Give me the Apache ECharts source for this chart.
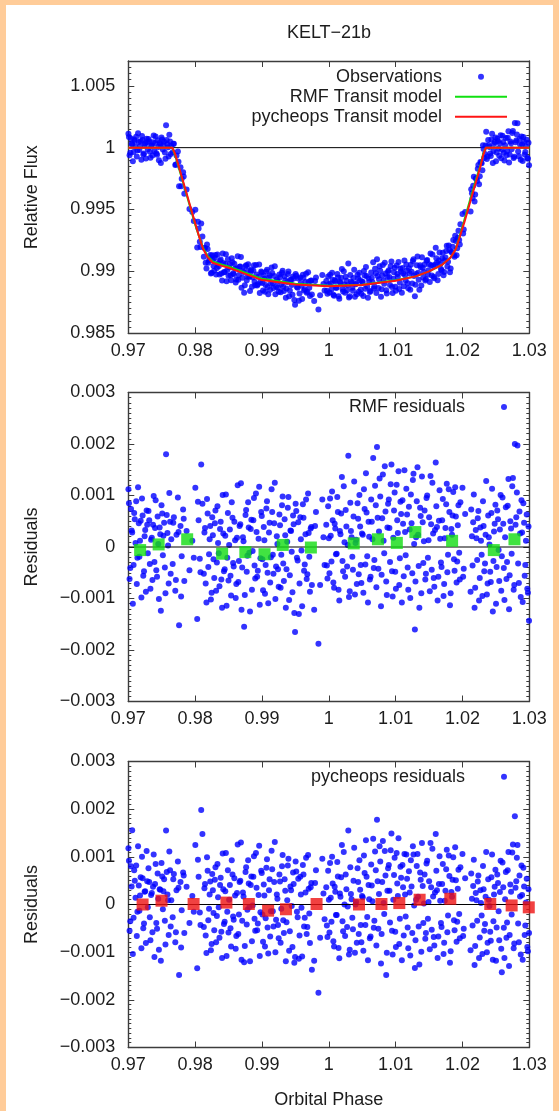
<!DOCTYPE html>
<html>
<head>
<meta charset="utf-8">
<title>KELT-21b transit</title>
<script src="https://cdn.jsdelivr.net/npm/echarts/dist/echarts.min.js"></script>
<style>
  html, body { margin: 0; padding: 0; background: #FFCC99; }
  #paper { position: absolute; left: 6px; top: 5px; width: 547px; height: 1106px; background: #ffffff; }
  #chart { position: absolute; left: 0; top: 0; width: 559px; height: 1111px; }
</style>
</head>
<body>
<div id="paper"></div>
<div id="chart"></div>
<script>
// ---- Phase axis ----
const xMin = 0.97, xMax = 1.03, xStep = 0.01;
const xTickLabels = ['0.97', '0.98', '0.99', '1', '1.01', '1.02', '1.03'];

// ---- Observations: orbital phase, normalised flux and residuals of both fits ----
const phase = [
  // first cadence block
  0.97002, 0.97019, 0.97041, 0.97058, 0.97079, 0.97097, 0.97118, 0.97136, 0.97157, 0.97175,
  0.97196, 0.97214, 0.97235, 0.97253, 0.97274, 0.97292, 0.97313, 0.97331, 0.97352, 0.97370,
  0.97391, 0.97409, 0.97430, 0.97448, 0.97469, 0.97487, 0.97508, 0.97526, 0.97547, 0.97565,
  0.97586, 0.97604, 0.97625, 0.97643,
  0.97664, 0.97682, 0.97703, 0.97721, 0.97742, 0.97760, 0.97781, 0.97799, 0.97820, 0.97838,
  0.97872, 0.97915, 0.97958, 0.98003, 0.98031, 0.98052, 0.98070, 0.98091, 0.98109,
  0.98130, 0.98148, 0.98169, 0.98187, 0.98208, 0.98226, 0.98247, 0.98265, 0.98286, 0.98304,
  0.98325, 0.98343, 0.98364, 0.98382, 0.98403, 0.98421, 0.98442, 0.98460, 0.98481, 0.98499,
  0.98520, 0.98538, 0.98559, 0.98577, 0.98598, 0.98616, 0.98637, 0.98655, 0.98676, 0.98694,
  0.98715, 0.98733, 0.98754, 0.98772, 0.98793, 0.98811, 0.98832, 0.98850, 0.98871, 0.98889,
  0.98910, 0.98928, 0.98949, 0.98967, 0.98988, 0.99006, 0.99027, 0.99045, 0.99066, 0.99084,
  0.99105, 0.99123, 0.99144, 0.99162, 0.99183, 0.99201, 0.99222, 0.99240, 0.99261, 0.99279,
  0.99300, 0.99318, 0.99339, 0.99357, 0.99378, 0.99396, 0.99417, 0.99435, 0.99456, 0.99474,
  0.99495, 0.99513, 0.99534, 0.99552, 0.99573, 0.99591, 0.99612, 0.99630, 0.99651, 0.99669,
  0.99690, 0.99708, 0.99729, 0.99747,
  0.99781, 0.99808, 0.99845, 0.99903, 0.99937,
  0.99962, 0.99980, 1.00001, 1.00019, 1.00040, 1.00058, 1.00079, 1.00097, 1.00118, 1.00136,
  1.00157, 1.00175, 1.00196, 1.00214, 1.00235, 1.00253, 1.00274, 1.00292, 1.00313, 1.00331,
  1.00352, 1.00370, 1.00391, 1.00409, 1.00430, 1.00448, 1.00469, 1.00487, 1.00508, 1.00526,
  1.00547, 1.00565, 1.00586, 1.00604, 1.00625, 1.00643, 1.00664, 1.00682, 1.00703, 1.00721,
  1.00742, 1.00760, 1.00781, 1.00799, 1.00820, 1.00838, 1.00859, 1.00877, 1.00898, 1.00916,
  1.00937, 1.00955, 1.00976, 1.00994, 1.01015, 1.01033, 1.01054, 1.01072, 1.01093, 1.01111,
  1.01132, 1.01150, 1.01171, 1.01189, 1.01210, 1.01228, 1.01249, 1.01267, 1.01288, 1.01306,
  1.01327, 1.01345, 1.01366, 1.01384, 1.01405, 1.01423, 1.01444, 1.01462, 1.01483, 1.01501,
  1.01522, 1.01540, 1.01561, 1.01579, 1.01600, 1.01618, 1.01639, 1.01657, 1.01678, 1.01696,
  1.01717, 1.01735, 1.01756, 1.01774, 1.01795, 1.01813, 1.01834, 1.01852, 1.01873, 1.01891,
  1.01912, 1.01930, 1.01951, 1.01969,
  1.02000, 1.02019, 1.02040, 1.02121, 1.02142, 1.02160, 1.02181, 1.02199, 1.02220, 1.02238,
  1.02259, 1.02277, 1.02298, 1.02316, 1.02337, 1.02355, 1.02376, 1.02394, 1.02415, 1.02433,
  1.02454, 1.02472, 1.02493, 1.02511, 1.02532, 1.02550, 1.02571, 1.02589, 1.02610, 1.02628,
  1.02649, 1.02667, 1.02688, 1.02706, 1.02727, 1.02745, 1.02766, 1.02784, 1.02805, 1.02823,
  1.02844, 1.02862, 1.02883, 1.02901, 1.02922, 1.02940, 1.02961, 1.02979, 1.02996,
  // second cadence block
  0.97010, 0.97030, 0.97050, 0.97068, 0.97088, 0.97108, 0.97127, 0.97146, 0.97166, 0.97185,
  0.97205, 0.97224, 0.97244, 0.97263, 0.97283, 0.97302, 0.97322, 0.97341, 0.97361, 0.97380,
  0.97400, 0.97419, 0.97439, 0.97458, 0.97478, 0.97497, 0.97517, 0.97536, 0.97556, 0.97575,
  0.97595, 0.97614, 0.97634,
  0.97673, 0.97712, 0.97751, 0.97790, 0.97829, 0.97980, 0.98042, 0.98080,
  0.98139, 0.98158, 0.98178, 0.98197, 0.98217, 0.98236, 0.98256, 0.98275, 0.98295, 0.98314,
  0.98334, 0.98353, 0.98373, 0.98392, 0.98412, 0.98431, 0.98451, 0.98470, 0.98490, 0.98509,
  0.98529, 0.98548, 0.98568, 0.98587, 0.98607, 0.98626, 0.98646, 0.98665, 0.98685, 0.98704,
  0.98724, 0.98743, 0.98763, 0.98782, 0.98802, 0.98821, 0.98841, 0.98860, 0.98880, 0.98899,
  0.98919, 0.98938, 0.98958, 0.98977, 0.98997, 0.99016, 0.99036, 0.99055, 0.99075, 0.99094,
  0.99114, 0.99133, 0.99153, 0.99172, 0.99192, 0.99211, 0.99231, 0.99250, 0.99270, 0.99289,
  0.99309, 0.99328, 0.99348, 0.99367, 0.99387, 0.99406, 0.99426, 0.99445, 0.99465, 0.99484,
  0.99504, 0.99523, 0.99543, 0.99562, 0.99582, 0.99601, 0.99621, 0.99640, 0.99660, 0.99679,
  0.99699, 0.99718, 0.99738,
  0.99794, 0.99870, 0.99920,
  0.99971, 0.99990, 1.00010, 1.00029, 1.00049, 1.00068, 1.00088, 1.00107, 1.00127, 1.00146,
  1.00166, 1.00185, 1.00205, 1.00224, 1.00244, 1.00263, 1.00283, 1.00302, 1.00322, 1.00341,
  1.00361, 1.00380, 1.00400, 1.00419, 1.00439, 1.00458, 1.00478, 1.00497, 1.00517, 1.00536,
  1.00556, 1.00575, 1.00595, 1.00614, 1.00634, 1.00653, 1.00673, 1.00692, 1.00712, 1.00731,
  1.00751, 1.00770, 1.00790, 1.00809, 1.00829, 1.00848, 1.00868, 1.00887, 1.00907, 1.00926,
  1.00946, 1.00965, 1.00985, 1.01004, 1.01024, 1.01043, 1.01063, 1.01082, 1.01102, 1.01121,
  1.01141, 1.01160, 1.01180, 1.01199, 1.01219, 1.01238, 1.01258, 1.01277, 1.01297, 1.01316,
  1.01336, 1.01355, 1.01375, 1.01394, 1.01414, 1.01433, 1.01453, 1.01472, 1.01492, 1.01511,
  1.01531, 1.01550, 1.01570, 1.01589, 1.01609, 1.01628, 1.01648, 1.01667, 1.01687, 1.01706,
  1.01726, 1.01745, 1.01765, 1.01784, 1.01804, 1.01823, 1.01843, 1.01862, 1.01882, 1.01901,
  1.01921, 1.01940, 1.01960,
  1.02010, 1.02131, 1.02151, 1.02170, 1.02190, 1.02209, 1.02229, 1.02248, 1.02268, 1.02287,
  1.02307, 1.02326, 1.02346, 1.02365, 1.02385, 1.02404, 1.02424, 1.02443, 1.02463, 1.02482,
  1.02502, 1.02521, 1.02541, 1.02560, 1.02580, 1.02599, 1.02619, 1.02638, 1.02658, 1.02677,
  1.02697, 1.02716, 1.02736, 1.02755, 1.02775, 1.02794, 1.02814, 1.02833, 1.02853, 1.02872,
  1.02892, 1.02911, 1.02931, 1.02950, 1.02970, 1.02988
];

const flux = [
  1.00112, 0.99938, 1.00074, 1.00028, 0.99965, 1.00054, 1.00089, 0.99979, 1.00046, 1.00012,
  0.99902, 1.00061, 0.99953, 1.00033, 1.00071, 0.99988, 1.00052, 0.99919, 1.00018, 1.00043,
  0.99971, 1.00091, 0.99942, 1.00006, 1.00038, 0.99876, 1.00065, 1.00022, 0.99960, 1.00180,
  1.00027, 0.99929, 1.00049, 1.00015,
  0.99962, 1.00031, 0.99860, 0.99936, 0.99969, 0.99688, 0.99842, 0.99749, 0.99801, 0.99628,
  0.99661, 0.99504, 0.99481, 0.99499, 0.99193, 0.99347, 0.99240, 0.99388, 0.99282,
  0.99118, 0.99189, 0.99023, 0.99181, 0.99089, 0.99132, 0.98989, 0.99092, 0.99005, 0.99133,
  0.99028, 0.99063, 0.98975, 0.99097, 0.98927, 0.99068, 0.98996, 0.99138, 0.99012, 0.98965,
  0.99060, 0.98928, 0.99075, 0.98977, 0.99023, 0.98935, 0.99123, 0.98972, 0.99039, 0.98869,
  0.99006, 0.98828, 0.99041, 0.98928, 0.99058, 0.98957, 0.98999, 0.98877, 0.99008, 0.98916,
  0.99052, 0.98886, 0.98956, 0.98825, 0.99000, 0.98906, 0.98967, 0.98836, 0.99000, 0.98874,
  0.98951, 0.98852, 0.99032, 0.98904, 0.98963, 0.98815, 0.98935, 0.98870, 0.98975, 0.98831,
  0.98990, 0.98876, 0.98960, 0.98787, 0.98914, 0.99000, 0.98846, 0.98931, 0.98811, 0.98942,
  0.98731, 0.98965, 0.98868, 0.98763, 0.98951, 0.98885, 0.98974, 0.98845, 0.98915, 0.98828,
  0.98993, 0.98869, 0.98924, 0.98813,
  0.98761, 0.98950, 0.98693, 0.98972, 0.98845,
  0.98923, 0.98819, 0.98897, 0.98974, 0.98853, 0.98933, 0.98803, 0.98918, 0.98869, 0.98951,
  0.98779, 0.98909, 0.99020, 0.98837, 0.98894, 0.98957, 0.98847, 0.99063, 0.98800, 0.98918,
  0.98868, 0.98946, 0.98796, 0.98902, 0.98974, 0.98836, 0.98929, 0.98820, 0.98915, 0.99004,
  0.98859, 0.98962, 0.98788, 0.98917, 0.98841, 0.98949, 0.99075, 0.98878, 0.98985, 0.99099,
  0.98865, 0.99041, 0.98795, 0.98967, 0.98924, 0.99071, 0.98848, 0.98954, 0.99010, 0.98890,
  0.99081, 0.98826, 0.98994, 0.98877, 0.99048, 0.98956, 0.98857, 0.99021, 0.98828, 0.98983,
  0.99089, 0.98927, 0.99008, 0.98864, 0.98984, 0.99054, 0.98903, 0.99098, 0.98799, 0.98980,
  0.99120, 0.98932, 0.99049, 0.98887, 0.99029, 0.98996, 0.98926, 0.99087, 0.98976, 0.99058,
  0.99144, 0.98967, 0.99043, 0.98945, 0.99192, 0.99071, 0.98980, 0.99153, 0.99019, 0.99106,
  0.98968, 0.99088, 0.99164, 0.99040, 0.99210, 0.98993, 0.99157, 0.99199, 0.99132, 0.99288,
  0.99131, 0.99272, 0.99254, 0.99382,
  0.99464, 0.99339, 0.99481, 0.99484, 0.99631, 0.99692, 0.99565, 0.99750, 0.99731, 0.99860,
  0.99769, 0.99878, 0.99818, 0.99990, 0.99949, 1.00128, 0.99929, 1.00019, 0.99952, 1.00066,
  0.99875, 1.00030, 1.00082, 0.99961, 1.00054, 0.99934, 1.00101, 0.99982, 1.00045, 0.99897,
  1.00077, 0.99971, 1.00132, 0.99945, 1.00036, 1.00118, 0.99917, 1.00200, 1.00058, 1.00197,
  0.99930, 1.00026, 1.00091, 0.99893, 1.00047, 0.99965, 1.00063, 0.99911, 0.99857,
  // second cadence block
  1.00085, 0.99959, 1.00032, 0.99890, 1.00066, 1.00008, 0.99928, 1.00116, 0.99981, 1.00051,
  1.00094, 0.99944, 1.00021, 0.99913, 1.00043, 1.00070, 0.99967, 1.00014, 0.99936, 1.00099,
  1.00037, 0.99955, 1.00059, 0.99899, 1.00025, 1.00081, 0.99984, 1.00047, 0.99910, 1.00062,
  1.00003, 1.00105, 0.99948,
  1.00031, 0.99864, 0.99886, 0.99688, 0.99766, 0.99407, 0.99401, 0.99198,
  0.99189, 0.99071, 0.99217, 0.99071, 0.99112, 0.98983, 0.99131, 0.99043, 0.99109, 0.98975,
  0.99136, 0.99041, 0.99085, 0.98984, 0.99145, 0.98993, 0.99059, 0.98921, 0.99098, 0.99032,
  0.98968, 0.99107, 0.98986, 0.99062, 0.98910, 0.99023, 0.98933, 0.99038, 0.99117, 0.98949,
  0.98996, 0.98888, 0.99049, 0.98957, 0.99008, 0.98841, 0.99015, 0.98950, 0.99049, 0.98889,
  0.98975, 0.98896, 0.99055, 0.98913, 0.98991, 0.98845, 0.98941, 0.98891, 0.99014, 0.98815,
  0.98969, 0.98901, 0.98988, 0.98866, 0.99042, 0.98877, 0.98920, 0.98835, 0.98953, 0.98895,
  0.99006, 0.98841, 0.98929, 0.98861, 0.98979, 0.98799, 0.98933, 0.98890, 0.98959, 0.98769,
  0.98980, 0.98874, 0.98942, 0.98822, 0.98907, 0.98777, 0.98948, 0.98856, 0.98982, 0.98836,
  0.98916, 0.98801, 0.98926,
  0.98923, 0.98807, 0.98899,
  0.98844, 0.98959, 0.98829, 0.98902, 0.98989, 0.98812, 0.98927, 0.98868, 0.98979, 0.98800,
  0.98914, 0.98949, 0.98857, 0.99002, 0.98827, 0.98925, 0.98889, 0.98789, 0.98972, 0.98906,
  0.98843, 0.99014, 0.98896, 0.98816, 0.98944, 0.98990, 0.98854, 0.98916, 0.98802, 0.98966,
  0.99036, 0.98877, 0.98945, 0.98834, 0.98991, 0.98915, 0.98861, 0.99022, 0.98826, 0.98962,
  0.98937, 0.99006, 0.98856, 0.99052, 0.98900, 0.98983, 0.98822, 0.99000, 0.98955, 0.99041,
  0.98874, 0.98940, 0.99029, 0.98844, 0.98979, 0.99076, 0.98909, 0.98997, 0.99027, 0.98881,
  0.98969, 0.99056, 0.98905, 0.99025, 0.98851, 0.98998, 0.99084, 0.98962, 0.98892, 0.99050,
  0.98989, 0.98851, 0.99033, 0.99114, 0.98950, 0.99056, 0.98937, 0.99092, 0.99010, 0.98914,
  0.99050, 0.99136, 0.98957, 0.99055, 0.99107, 0.98928, 0.99089, 0.99059, 0.99010, 0.99151,
  0.98995, 0.99113, 0.99208, 0.99078, 0.99170, 0.99024, 0.99154, 0.99254, 0.99118, 0.99245,
  0.99187, 0.99329, 0.99217,
  0.99307, 0.99664, 0.99591, 0.99765, 0.99621, 0.99753, 0.99829, 0.99705, 0.99884, 0.99873,
  1.00020, 0.99917, 1.00018, 0.99908, 1.00061, 1.00005, 0.99932, 1.00113, 0.99973, 1.00045,
  0.99890, 1.00071, 0.99994, 1.00034, 0.99915, 1.00096, 0.99959, 1.00019, 0.99938, 1.00080,
  0.99879, 1.00050, 0.99987, 1.00134, 0.99926, 1.00043, 1.00106, 0.99968, 1.00069, 0.99903,
  1.00028, 1.00085, 0.99944, 1.00012, 0.99919, 1.00040
];

const rmfResidual = [
  0.00112, -0.00062, 0.00074, 0.00028, -0.00035, 0.00054, 0.00089, -0.00021, 0.00046, 0.00012,
  -0.00098, 0.00061, -0.00047, 0.00033, 0.00071, -0.00012, 0.00052, -0.00081, 0.00018, 0.00043,
  -0.00029, 0.00091, -0.00058, 0.00006, 0.00038, -0.00124, 0.00065, 0.00022, -0.00040, 0.00180,
  0.00027, -0.00071, 0.00049, 0.00015,
  -0.00033, 0.00058, -0.00085, 0.00024, 0.00096, -0.00152, 0.00041, -0.00018, 0.00073, -0.00066,
  0.00031, -0.00045, 0.00012, 0.00115, -0.00140, 0.00052, -0.00023, 0.00160, 0.00084,
  -0.00052, 0.00037, -0.00108, 0.00065, -0.00014, 0.00041, -0.00089, 0.00023, -0.00060, 0.00071,
  -0.00030, 0.00008, -0.00076, 0.00049, -0.00118, 0.00026, -0.00043, 0.00102, -0.00021, -0.00065,
  0.00034, -0.00094, 0.00057, -0.00038, 0.00013, -0.00072, 0.00120, -0.00027, 0.00044, -0.00122,
  0.00019, -0.00155, 0.00062, -0.00048, 0.00087, -0.00011, 0.00035, -0.00083, 0.00052, -0.00036,
  0.00104, -0.00058, 0.00016, -0.00112, 0.00068, -0.00024, 0.00039, -0.00091, 0.00075, -0.00050,
  0.00028, -0.00069, 0.00112, -0.00015, 0.00046, -0.00101, 0.00021, -0.00043, 0.00063, -0.00079,
  0.00081, -0.00032, 0.00054, -0.00118, 0.00010, 0.00097, -0.00055, 0.00031, -0.00088, 0.00044,
  -0.00165, 0.00070, -0.00026, -0.00130, 0.00058, -0.00007, 0.00083, -0.00046, 0.00025, -0.00062,
  0.00104, -0.00019, 0.00036, -0.00074,
  -0.00122, 0.00068, -0.00188, 0.00092, -0.00035,
  0.00043, -0.00061, 0.00017, 0.00094, -0.00028, 0.00052, -0.00079, 0.00036, -0.00013, 0.00068,
  -0.00104, 0.00025, 0.00136, -0.00047, 0.00009, 0.00072, -0.00038, 0.00177, -0.00086, 0.00031,
  -0.00019, 0.00059, -0.00092, 0.00014, 0.00085, -0.00053, 0.00040, -0.00070, 0.00024, 0.00112,
  -0.00034, 0.00067, -0.00108, 0.00020, -0.00058, 0.00049, 0.00173, -0.00025, 0.00081, 0.00194,
  -0.00042, 0.00133, -0.00115, 0.00056, 0.00012, 0.00157, -0.00067, 0.00038, 0.00092, -0.00029,
  0.00160, -0.00096, 0.00071, -0.00048, 0.00121, 0.00027, -0.00074, 0.00088, -0.00108, 0.00045,
  0.00149, -0.00016, 0.00063, -0.00083, 0.00034, 0.00102, -0.00051, 0.00142, -0.00160, 0.00019,
  0.00155, -0.00037, 0.00076, -0.00090, 0.00048, 0.00011, -0.00063, 0.00095, -0.00021, 0.00058,
  0.00138, -0.00044, 0.00026, -0.00077, 0.00164, 0.00039, -0.00058, 0.00110, -0.00030, 0.00052,
  -0.00095, 0.00017, 0.00083, -0.00049, 0.00112, -0.00113, 0.00035, 0.00061, -0.00024, 0.00116,
  -0.00069, 0.00042, -0.00011, 0.00087,
  0.00115, -0.00042, 0.00064, -0.00087, 0.00021, 0.00048, -0.00118, 0.00033, -0.00025, 0.00070,
  -0.00060, 0.00012, -0.00095, 0.00041, -0.00032, 0.00128, -0.00071, 0.00019, -0.00048, 0.00066,
  -0.00125, 0.00030, 0.00082, -0.00039, 0.00054, -0.00066, 0.00101, -0.00018, 0.00045, -0.00103,
  0.00077, -0.00029, 0.00132, -0.00055, 0.00036, 0.00118, -0.00083, 0.00200, 0.00058, 0.00197,
  -0.00070, 0.00026, 0.00091, -0.00107, 0.00047, -0.00035, 0.00063, -0.00089, -0.00143,
  // second cadence block
  0.00085, -0.00041, 0.00032, -0.00110, 0.00066, 0.00008, -0.00072, 0.00116, -0.00019, 0.00051,
  0.00094, -0.00056, 0.00021, -0.00087, 0.00043, 0.00070, -0.00033, 0.00014, -0.00064, 0.00099,
  0.00037, -0.00045, 0.00059, -0.00101, 0.00025, 0.00081, -0.00016, 0.00047, -0.00090, 0.00062,
  0.00003, 0.00105, -0.00052,
  0.00047, -0.00064, 0.00029, -0.00096, 0.00055, -0.00021, 0.00088, -0.00049,
  0.00028, -0.00071, 0.00093, -0.00039, 0.00015, -0.00102, 0.00058, -0.00024, 0.00046, -0.00085,
  0.00079, -0.00012, 0.00035, -0.00063, 0.00101, -0.00047, 0.00022, -0.00114, 0.00066, 0.00004,
  -0.00056, 0.00087, -0.00031, 0.00049, -0.00099, 0.00018, -0.00068, 0.00041, 0.00124, -0.00040,
  0.00011, -0.00093, 0.00072, -0.00017, 0.00038, -0.00125, 0.00053, -0.00008, 0.00095, -0.00061,
  0.00029, -0.00046, 0.00117, -0.00022, 0.00060, -0.00084, 0.00013, -0.00035, 0.00089, -0.00109,
  0.00047, -0.00020, 0.00068, -0.00052, 0.00125, -0.00038, 0.00006, -0.00077, 0.00042, -0.00015,
  0.00098, -0.00066, 0.00023, -0.00043, 0.00076, -0.00103, 0.00032, -0.00009, 0.00061, -0.00128,
  0.00084, -0.00021, 0.00048, -0.00071, 0.00015, -0.00115, 0.00057, -0.00034, 0.00092, -0.00053,
  0.00027, -0.00087, 0.00039,
  0.00041, -0.00074, 0.00019,
  -0.00036, 0.00079, -0.00051, 0.00022, 0.00108, -0.00069, 0.00045, -0.00014, 0.00097, -0.00083,
  0.00031, 0.00065, -0.00027, 0.00118, -0.00058, 0.00040, 0.00004, -0.00097, 0.00086, 0.00019,
  -0.00044, 0.00127, 0.00008, -0.00072, 0.00055, 0.00101, -0.00035, 0.00026, -0.00089, 0.00074,
  0.00143, -0.00018, 0.00049, -0.00063, 0.00092, 0.00015, -0.00041, 0.00119, -0.00078, 0.00057,
  0.00030, 0.00098, -0.00054, 0.00141, -0.00012, 0.00069, -0.00093, 0.00084, 0.00037, 0.00122,
  -0.00047, 0.00018, 0.00106, -0.00081, 0.00052, 0.00147, -0.00022, 0.00064, 0.00091, -0.00057,
  0.00029, 0.00113, -0.00040, 0.00078, -0.00099, 0.00046, 0.00130, 0.00006, -0.00067, 0.00089,
  0.00024, -0.00118, 0.00060, 0.00137, -0.00031, 0.00071, -0.00052, 0.00100, 0.00013, -0.00086,
  0.00044, 0.00125, -0.00060, 0.00033, 0.00079, -0.00104, 0.00051, 0.00016, -0.00039, 0.00093,
  -0.00072, 0.00037, 0.00123, -0.00015, 0.00068, -0.00090, 0.00024, 0.00107, -0.00046, 0.00059,
  -0.00028, 0.00081, -0.00063,
  -0.00058, 0.00073, -0.00036, 0.00102, -0.00079, 0.00017, 0.00056, -0.00104, 0.00038, -0.00015,
  0.00089, -0.00047, 0.00024, -0.00092, 0.00061, 0.00005, -0.00068, 0.00113, -0.00027, 0.00045,
  -0.00110, 0.00071, -0.00006, 0.00034, -0.00085, 0.00096, -0.00041, 0.00019, -0.00062, 0.00080,
  -0.00121, 0.00050, -0.00013, 0.00134, -0.00074, 0.00043, 0.00106, -0.00032, 0.00069, -0.00097,
  0.00028, 0.00085, -0.00056, 0.00012, -0.00081, 0.00040
];

const pycheopsResidual = [
  0.00118, -0.00055, 0.00080, 0.00156, -0.00028, 0.00050, 0.00082, -0.00015, 0.00040, 0.00019,
  -0.00092, 0.00055, -0.00040, 0.00028, 0.00112, -0.00006, 0.00047, -0.00075, 0.00024, 0.00037,
  -0.00110, 0.00085, -0.00051, 0.00012, 0.00032, -0.00118, 0.00059, 0.00028, -0.00034, 0.00155,
  0.00021, -0.00064, 0.00072, 0.00009,
  -0.00027, 0.00064, -0.00079, 0.00030, 0.00090, -0.00148, 0.00047, -0.00012, 0.00067, -0.00060,
  0.00037, -0.00039, 0.00018, 0.00125, -0.00134, 0.00058, -0.00017, 0.00198, 0.00148,
  -0.00047, 0.00043, -0.00102, 0.00071, -0.00009, 0.00048, -0.00083, 0.00030, -0.00054, 0.00078,
  -0.00024, 0.00015, -0.00070, 0.00056, -0.00112, 0.00032, -0.00036, 0.00108, -0.00015, -0.00059,
  0.00041, -0.00088, 0.00063, -0.00032, 0.00019, -0.00066, 0.00126, -0.00021, 0.00050, -0.00116,
  0.00025, -0.00121, 0.00068, -0.00042, 0.00093, -0.00005, 0.00041, -0.00077, 0.00058, -0.00030,
  0.00108, -0.00054, 0.00020, -0.00108, 0.00071, -0.00021, 0.00042, -0.00088, 0.00077, -0.00048,
  0.00030, -0.00067, 0.00113, -0.00014, 0.00047, -0.00100, 0.00021, -0.00043, 0.00063, -0.00080,
  0.00080, -0.00033, 0.00053, -0.00119, 0.00009, 0.00096, -0.00056, 0.00030, -0.00089, 0.00043,
  -0.00110, 0.00069, -0.00027, -0.00114, 0.00058, -0.00007, 0.00083, -0.00046, 0.00025, -0.00062,
  0.00104, -0.00019, 0.00036, -0.00137,
  -0.00118, 0.00072, -0.00185, 0.00096, -0.00031,
  0.00036, -0.00068, 0.00010, 0.00087, -0.00036, 0.00044, -0.00088, 0.00027, -0.00022, 0.00059,
  -0.00113, 0.00016, 0.00125, -0.00056, 0.00000, 0.00063, -0.00047, 0.00155, -0.00095, 0.00022,
  -0.00028, 0.00050, -0.00101, 0.00005, 0.00076, -0.00062, 0.00031, -0.00079, 0.00015, 0.00103,
  -0.00043, 0.00058, -0.00117, 0.00011, -0.00067, 0.00040, 0.00138, -0.00034, 0.00072, 0.00178,
  -0.00051, 0.00122, -0.00124, 0.00047, 0.00003, 0.00112, -0.00148, 0.00029, 0.00083, -0.00038,
  0.00149, -0.00105, 0.00062, -0.00057, 0.00108, 0.00018, -0.00083, 0.00079, -0.00117, 0.00036,
  0.00106, -0.00025, 0.00054, -0.00092, 0.00025, 0.00093, -0.00060, 0.00105, -0.00133, 0.00010,
  0.00106, -0.00046, 0.00067, -0.00099, 0.00039, 0.00002, -0.00072, 0.00086, -0.00030, 0.00049,
  0.00129, -0.00053, 0.00017, -0.00086, 0.00148, 0.00030, -0.00067, 0.00101, -0.00039, 0.00043,
  -0.00104, 0.00008, 0.00074, -0.00058, 0.00103, -0.00122, 0.00026, 0.00052, -0.00033, 0.00120,
  -0.00078, 0.00033, -0.00020, 0.00078,
  0.00106, -0.00051, 0.00055, -0.00096, 0.00012, 0.00039, -0.00127, 0.00024, -0.00034, 0.00061,
  -0.00069, 0.00003, -0.00104, 0.00032, -0.00041, 0.00110, -0.00080, 0.00010, -0.00057, 0.00057,
  -0.00116, 0.00021, 0.00073, -0.00048, 0.00045, -0.00075, 0.00092, -0.00142, 0.00036, -0.00112,
  0.00068, -0.00038, 0.00110, -0.00064, 0.00027, 0.00109, -0.00092, 0.00185, 0.00049, 0.00125,
  -0.00079, 0.00017, 0.00082, -0.00116, 0.00038, -0.00044, 0.00054, -0.00098, -0.00060,
  // second cadence block
  0.00092, -0.00035, 0.00038, -0.00104, 0.00072, 0.00014, -0.00066, 0.00122, -0.00013, 0.00057,
  0.00100, -0.00050, 0.00027, -0.00081, 0.00049, 0.00076, -0.00027, 0.00020, -0.00058, 0.00105,
  0.00043, -0.00039, 0.00065, -0.00095, 0.00031, 0.00087, -0.00010, 0.00053, -0.00084, 0.00068,
  0.00009, 0.00111, -0.00046,
  0.00053, -0.00058, 0.00035, -0.00090, 0.00061, -0.00015, 0.00094, -0.00043,
  0.00034, -0.00065, 0.00099, -0.00033, 0.00021, -0.00096, 0.00064, -0.00018, 0.00052, -0.00079,
  0.00085, -0.00006, 0.00041, -0.00057, 0.00107, -0.00041, 0.00028, -0.00108, 0.00072, 0.00010,
  -0.00050, 0.00093, -0.00025, 0.00055, -0.00093, 0.00024, -0.00062, 0.00047, 0.00130, -0.00034,
  0.00017, -0.00087, 0.00078, -0.00011, 0.00044, -0.00119, 0.00059, -0.00002, 0.00101, -0.00055,
  0.00035, -0.00040, 0.00123, -0.00016, 0.00066, -0.00078, 0.00019, -0.00029, 0.00095, -0.00103,
  0.00053, -0.00014, 0.00074, -0.00046, 0.00131, -0.00032, 0.00012, -0.00071, 0.00048, -0.00009,
  0.00104, -0.00060, 0.00029, -0.00037, 0.00082, -0.00097, 0.00038, -0.00003, 0.00067, -0.00122,
  0.00090, -0.00015, 0.00054, -0.00065, 0.00021, -0.00109, 0.00063, -0.00028, 0.00098, -0.00047,
  0.00033, -0.00081, 0.00045,
  0.00045, -0.00070, 0.00023,
  -0.00044, 0.00071, -0.00059, 0.00014, 0.00100, -0.00077, 0.00037, -0.00022, 0.00089, -0.00091,
  0.00023, 0.00057, -0.00035, 0.00110, -0.00066, 0.00032, -0.00004, -0.00105, 0.00078, 0.00011,
  -0.00052, 0.00119, 0.00000, -0.00080, 0.00047, 0.00093, -0.00043, 0.00018, -0.00097, 0.00066,
  0.00135, -0.00026, 0.00041, -0.00071, 0.00084, 0.00007, -0.00049, 0.00111, -0.00086, 0.00049,
  0.00022, 0.00090, -0.00062, 0.00133, -0.00020, 0.00061, -0.00101, 0.00076, 0.00029, 0.00114,
  -0.00055, 0.00010, 0.00098, -0.00089, 0.00044, 0.00139, -0.00030, 0.00056, 0.00083, -0.00065,
  0.00021, 0.00105, -0.00048, 0.00070, -0.00107, 0.00038, 0.00122, -0.00002, -0.00075, 0.00081,
  0.00016, -0.00126, 0.00052, 0.00129, -0.00039, 0.00063, -0.00060, 0.00092, 0.00005, -0.00094,
  0.00036, 0.00117, -0.00068, 0.00025, 0.00071, -0.00112, 0.00043, 0.00008, -0.00047, 0.00085,
  -0.00080, 0.00029, 0.00115, -0.00023, 0.00060, -0.00098, 0.00016, 0.00099, -0.00054, 0.00051,
  -0.00036, 0.00073, -0.00071,
  -0.00066, 0.00065, -0.00044, 0.00094, -0.00087, 0.00009, 0.00048, -0.00112, 0.00030, -0.00023,
  0.00081, -0.00055, 0.00016, -0.00100, 0.00053, -0.00003, -0.00076, 0.00105, -0.00035, 0.00037,
  -0.00118, 0.00063, -0.00014, 0.00026, -0.00093, 0.00088, -0.00049, 0.00011, -0.00070, 0.00072,
  -0.00129, 0.00042, -0.00021, 0.00126, -0.00082, 0.00035, 0.00098, -0.00040, 0.00061, -0.00105,
  0.00020, 0.00077, -0.00064, 0.00004, -0.00089, 0.00032
];

// ---- Transit models sampled in phase ----
const modelPhase = [
  0.9700, 0.9766, 0.9770, 0.9776, 0.9784, 0.9792, 0.9800, 0.9806, 0.9812, 0.9818,
  0.9826, 0.9840, 0.9850, 0.9870, 0.9900, 0.9950, 1.0000, 1.0050, 1.0100, 1.0130,
  1.0150, 1.0170, 1.0182, 1.0190, 1.0196, 1.0203, 1.0211, 1.0219, 1.0227, 1.0231,
  1.0235, 1.0300
];
const rmfModelFlux = [
  1.0000, 1.0000, 0.9994, 0.9983, 0.9968, 0.9953, 0.9938, 0.9928, 0.9919, 0.9913,
  0.9908, 0.99055, 0.9904, 0.9900, 0.9894, 0.98900, 0.98884, 0.98893, 0.98928, 0.9896,
  0.9900, 0.99055, 0.9911, 0.9918, 0.9929, 0.9942, 0.9957, 0.9972, 0.9986, 0.9995,
  1.0000, 1.0000
];
const pycheopsModelFlux = [
  1.0000, 1.0000, 0.9995, 0.9984, 0.9969, 0.9954, 0.9939, 0.9928, 0.9918, 0.9912,
  0.9907, 0.99045, 0.9903, 0.9899, 0.9893, 0.98895, 0.98880, 0.98890, 0.98925, 0.9896,
  0.9900, 0.99055, 0.9911, 0.9918, 0.9928, 0.9940, 0.9955, 0.9970, 0.9985, 0.9994,
  1.0000, 1.0000
];

// ---- Binned residuals ----
const rmfBinPhase = [0.97177, 0.97454, 0.97881, 0.98404, 0.98751, 0.99038, 0.99311, 0.99732,
  1.00373, 1.00735, 1.01018, 1.01295, 1.01845, 1.02469, 1.02778];
const rmfBinResidual = [-0.00006, 0.00005, 0.00015, -0.00013, -0.00010, -0.00014, 0.00004, -0.00001,
  0.00007, 0.00015, 0.00008, 0.00029, 0.00012, -0.00006, 0.00015];
const pycheopsBinPhase = [0.97214, 0.97497, 0.97977, 0.98468, 0.98804, 0.99092, 0.99359, 0.99817,
  1.00452, 1.00788, 1.01055, 1.01359, 1.01818, 1.02416, 1.02736, 1.02992];
const pycheopsBinResidual = [0.00000, 0.00008, 0.00001, 0.00004, 0.00001, -0.00013, -0.00010, 0.00001,
  0.00000, 0.00001, 0.00003, 0.00010, 0.00012, 0.00001, -0.00002, -0.00006];

// reference levels
const fluxBaseline = 1;
const residualZero = 0;

// ---- Styling ----
const FONT = "'Liberation Sans', Arial, Helvetica, sans-serif";
const TEXT = '#1c1c1c';
const FRAME = '#3c3c3c';
const BLUE = '#0000ff';
const GREEN_LINE = '#10e010';
const RED_LINE = '#ff1414';
const GREEN_BOX = '#12dc12';
const RED_BOX = '#ee1111';

const panels = [
  { top: 61, height: 272.3, yMin: 0.985, yMax: 1.007, yStep: 0.005, yMinor: 0.0005, yName: 'Relative Flux' },
  { top: 392.5, height: 309, yMin: -0.003, yMax: 0.003, yStep: 0.001, yMinor: 0.0001, yName: 'Residuals' },
  { top: 761.5, height: 286, yMin: -0.003, yMax: 0.003, yStep: 0.001, yMinor: 0.0001, yName: 'Residuals', xName: 'Orbital Phase' }
];

function numLabel(v) {
  return String(parseFloat(Number(v).toFixed(4))).replace('-', '\u2212');
}
function zip(xs, ys) { return xs.map((x, i) => [x, ys[i]]); }

const grids = [], xAxes = [], yAxes = [];
const lineStyle = { color: FRAME, width: 1.4 };
const labelStyle = { color: TEXT, fontSize: 18, fontFamily: FONT };

panels.forEach((p, g) => {
  grids.push({ left: 128.3, right: 29.7, top: p.top, height: p.height, containLabel: false, outerBoundsMode: 'none' });
  const xBase = {
    type: 'value', gridIndex: g, min: xMin, max: xMax, interval: xStep,
    splitLine: { show: false },
    axisLine: { show: true, onZero: false, lineStyle },
    axisTick: { show: true, inside: true, length: 6, lineStyle: { color: FRAME, width: 1 } }
  };
  xAxes.push(Object.assign({}, xBase, {
    position: 'bottom',
    axisLabel: { show: true, margin: 9, hideOverlap: false, showMinLabel: true, showMaxLabel: true,
      formatter: v => { const s = numLabel(v); return xTickLabels.includes(s) ? s : ''; }, ...labelStyle },
    name: p.xName || '', nameLocation: 'middle', nameGap: 44,
    nameTextStyle: { color: TEXT, fontSize: 18, fontFamily: FONT }
  }));
  xAxes.push(Object.assign({}, xBase, { position: 'top', axisLabel: { show: false } }));

  const yBase = {
    type: 'value', gridIndex: g, min: p.yMin, max: p.yMax,
    splitLine: { show: false }, axisLabel: { show: false }
  };
  // left: labelled major ticks
  yAxes.push(Object.assign({}, yBase, {
    position: 'left', interval: p.yStep,
    axisLine: { show: true, onZero: false, lineStyle },
    axisTick: { show: true, inside: true, length: 6, lineStyle: { color: FRAME, width: 1 } },
    axisLabel: { show: true, margin: 13, hideOverlap: false, showMaxLabel: p.yMax / p.yStep % 1 === 0,
      formatter: numLabel, ...labelStyle },
    name: p.yName, nameLocation: 'middle', nameGap: 87,
    nameTextStyle: { color: TEXT, fontSize: 18, fontFamily: FONT }
  }));
  // left: minor ticks
  yAxes.push(Object.assign({}, yBase, {
    position: 'left', interval: p.yMinor,
    axisLine: { show: false, onZero: false },
    axisTick: { show: true, inside: true, length: 3, lineStyle: { color: FRAME, width: 1 } }
  }));
  // right: mirrored major ticks
  yAxes.push(Object.assign({}, yBase, {
    position: 'right', interval: p.yStep,
    axisLine: { show: true, onZero: false, lineStyle },
    axisTick: { show: true, inside: true, length: 6, lineStyle: { color: FRAME, width: 1 } }
  }));
  // right: mirrored minor ticks
  yAxes.push(Object.assign({}, yBase, {
    position: 'right', interval: p.yMinor,
    axisLine: { show: false, onZero: false },
    axisTick: { show: true, inside: true, length: 3, lineStyle: { color: FRAME, width: 1 } }
  }));
});

function refLine(g, level, z) {
  return {
    type: 'line', xAxisIndex: 2 * g, yAxisIndex: 4 * g, z, silent: true,
    data: [[xMin, level], [xMax, level]], symbol: 'none',
    lineStyle: { color: '#000000', width: 1 }, emphasis: { disabled: true }
  };
}
function dots(g, name, ys) {
  return {
    type: 'scatter', name, xAxisIndex: 2 * g, yAxisIndex: 4 * g, z: 2,
    data: zip(phase, ys), symbol: 'circle', symbolSize: 6,
    itemStyle: { color: BLUE }, emphasis: { disabled: true }
  };
}
function modelLine(name, ys, color, z) {
  return {
    type: 'line', name, xAxisIndex: 0, yAxisIndex: 0, z,
    data: zip(modelPhase, ys), symbol: 'none', showSymbol: false,
    color, lineStyle: { color, width: 2 }, itemStyle: { color }, emphasis: { disabled: true }
  };
}
function boxes(g, name, xs, ys, color) {
  return {
    type: 'scatter', name, xAxisIndex: 2 * g, yAxisIndex: 4 * g, z: 4,
    data: zip(xs, ys), symbol: 'rect', symbolSize: 12,
    itemStyle: { color }, emphasis: { disabled: true }
  };
}

const lineIcon = 'path://M0,0 L52,0 L52,2 L0,2 Z';
const legendBase = {
  orient: 'vertical', align: 'right', right: 52, padding: 0, itemGap: 2,
  itemWidth: 52, itemHeight: 6, symbolKeepAspect: true, selectedMode: false,
  textStyle: { color: TEXT, fontSize: 18, fontFamily: FONT, padding: [0, 8, 0, 0] }
};

const option = {
  animation: false,
  backgroundColor: 'transparent',
  title: {
    text: 'KELT\u221221b', left: 329, top: 24, textAlign: 'center', padding: 0,
    textStyle: { color: TEXT, fontSize: 18, fontWeight: 'normal', fontFamily: FONT }
  },
  legend: [
    Object.assign({}, legendBase, {
      top: 67.7,
      data: [
        { name: 'Observations', icon: 'circle' },
        { name: 'RMF Transit model', icon: lineIcon },
        { name: 'pycheops Transit model', icon: lineIcon }
      ]
    }),
    Object.assign({}, legendBase, { top: 398, data: [{ name: 'RMF residuals', icon: 'circle' }] }),
    Object.assign({}, legendBase, { top: 767.7, data: [{ name: 'pycheops residuals', icon: 'circle' }] })
  ],
  grid: grids,
  xAxis: xAxes,
  yAxis: yAxes,
  series: [
    refLine(0, fluxBaseline, 1),
    dots(0, 'Observations', flux),
    modelLine('RMF Transit model', rmfModelFlux, GREEN_LINE, 3),
    modelLine('pycheops Transit model', pycheopsModelFlux, RED_LINE, 4),

    dots(1, 'RMF residuals', rmfResidual),
    refLine(1, residualZero, 3),
    boxes(1, 'RMF binned residuals', rmfBinPhase, rmfBinResidual, GREEN_BOX),

    dots(2, 'pycheops residuals', pycheopsResidual),
    refLine(2, residualZero, 3),
    boxes(2, 'pycheops binned residuals', pycheopsBinPhase, pycheopsBinResidual, RED_BOX)
  ]
};

const chart = echarts.init(document.getElementById('chart'), null, { renderer: 'canvas' });
chart.setOption(option);
</script>
</body>
</html>
